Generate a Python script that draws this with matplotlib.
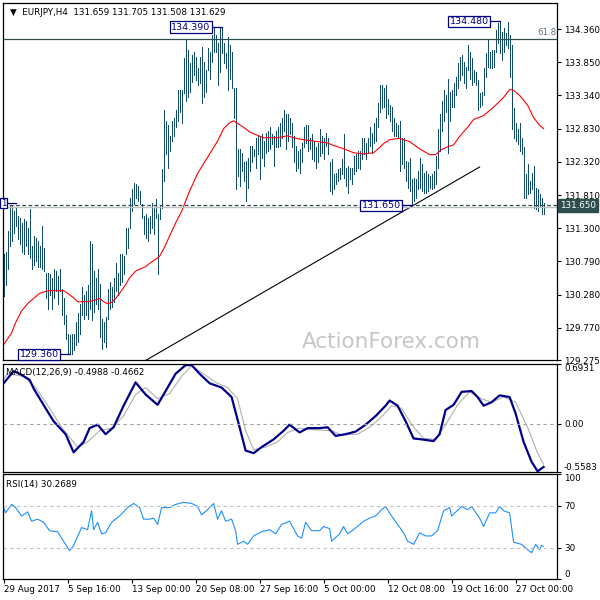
import matplotlib
matplotlib.use("Agg")
import matplotlib.pyplot as plt

plt.rcParams["font.family"] = ["DejaVu Sans"]
FS = 6.3

# ── data (EURJPY H4, bar index 0 = 29 Aug 2017) ─────────────────────────────
bar_high = [
    130.90, 130.94, 131.25, 131.64, 131.64, 131.56, 131.61, 131.48, 131.45, 131.38,
    131.44, 131.41, 131.30, 131.59, 131.02, 131.18, 131.15, 131.10, 131.02, 131.33,
    130.99, 130.61, 130.61, 130.59, 130.53, 130.68, 130.64, 130.56, 130.67, 130.36,
    130.22, 129.97, 129.68, 129.66, 129.68, 129.68, 129.86, 129.99, 130.13, 130.40,
    130.28, 130.33, 130.43, 131.10, 131.05, 130.64, 130.53, 130.67, 130.45, 129.91,
    129.86, 129.94, 130.36, 130.48, 130.40, 130.53, 130.76, 130.61, 130.90, 130.90,
    130.87, 131.30, 131.30, 131.76, 131.90, 132.00, 131.98, 131.95, 131.87, 131.67,
    131.48, 131.52, 131.45, 131.48, 131.69, 131.61, 131.75, 131.52, 131.64, 132.21,
    133.11, 132.95, 132.88, 132.72, 132.95, 132.99, 133.11, 133.42, 133.42, 133.42,
    133.91, 134.19, 134.04, 133.84, 133.96, 134.01, 133.93, 133.76, 133.93, 134.08,
    133.85, 133.73, 134.07, 134.01, 134.27, 134.39, 134.27, 134.14, 134.39, 134.39,
    134.14, 133.99, 134.24, 134.11, 134.01, 133.46, 133.45, 132.52, 132.52, 132.46,
    132.31, 132.34, 132.38, 132.57, 132.57, 132.52, 132.69, 132.72, 132.72, 132.75,
    132.64, 132.77, 132.80, 132.85, 132.75, 132.72, 132.80, 132.85, 132.92, 133.00,
    133.11, 133.06, 133.06, 133.00, 132.91, 132.72, 132.57, 132.49, 132.52, 132.61,
    132.85, 132.88, 132.88, 132.69, 132.75, 132.64, 132.54, 132.61, 132.83, 132.72,
    132.69, 132.77, 132.68, 132.31, 132.37, 132.14, 132.15, 132.21, 132.23, 132.37,
    132.75, 132.23, 132.26, 132.23, 132.23, 132.41, 132.44, 132.49, 132.49, 132.69,
    132.69, 132.61, 132.69, 132.85, 132.77, 132.91, 132.99, 133.23, 133.50, 133.50,
    133.46, 133.50, 133.29, 133.19, 133.16, 132.99, 132.92, 132.88, 132.95, 132.69,
    132.68, 132.34, 132.31, 132.38, 132.06, 132.07, 132.06, 132.18, 132.38, 132.29,
    132.15, 132.18, 132.14, 132.10, 132.14, 132.18, 132.41, 132.83, 133.06, 133.26,
    133.42, 133.34, 133.60, 133.39, 133.42, 133.53, 133.62, 133.84, 133.93, 133.96,
    133.85, 133.77, 134.11, 134.01, 133.91, 133.73, 133.70, 133.57, 133.37, 133.39,
    133.76, 133.99, 134.19, 134.01, 134.04, 134.04, 134.35, 134.45, 134.48, 134.31,
    134.38, 134.30, 134.47, 134.27, 134.11, 133.14, 132.92, 132.83, 132.92, 132.69,
    132.54, 132.14, 132.29, 132.03, 132.15, 132.26, 131.92, 131.90, 131.83, 131.76,
    131.69,
]
bar_low = [
    130.26, 130.43, 130.68, 131.02, 131.10, 131.22, 131.33, 131.13, 131.05, 130.94,
    130.90, 131.02, 130.91, 130.84, 130.68, 130.74, 130.79, 130.71, 130.71, 130.67,
    130.64, 130.22, 130.06, 130.28, 130.06, 130.22, 130.33, 130.13, 130.33, 129.97,
    129.83, 129.60, 129.37, 129.36, 129.37, 129.43, 129.51, 129.55, 129.68, 129.97,
    129.91, 129.97, 129.91, 130.06, 129.89, 130.02, 130.13, 130.06, 129.63, 129.45,
    129.55, 129.48, 129.91, 130.06, 130.09, 130.17, 130.33, 130.28, 130.43, 130.48,
    130.59, 130.90, 130.99, 131.30, 131.56, 131.67, 131.76, 131.72, 131.67, 131.45,
    131.21, 131.15, 131.10, 131.22, 131.30, 131.21, 131.45, 130.59, 131.44, 131.61,
    132.03, 132.44, 132.23, 132.49, 132.64, 132.72, 132.85, 132.95, 133.08, 132.92,
    133.37, 133.26, 133.31, 133.39, 133.54, 133.65, 133.57, 133.50, 133.53, 133.23,
    133.31, 133.39, 133.73, 133.60, 133.85, 134.01, 134.01, 133.50, 133.70, 133.99,
    133.84, 133.76, 133.42, 133.60, 133.45, 133.00, 131.90, 132.10, 131.95, 132.18,
    132.03, 131.72, 131.92, 132.18, 132.31, 132.41, 132.23, 132.44, 132.06, 132.38,
    132.26, 132.46, 132.49, 132.52, 132.60, 132.26, 132.54, 132.54, 132.57, 132.69,
    132.80, 132.52, 132.64, 132.75, 132.54, 132.31, 132.18, 132.23, 132.15, 132.31,
    132.54, 132.61, 132.49, 132.52, 132.37, 132.34, 132.23, 132.31, 132.41, 132.46,
    132.37, 132.57, 132.44, 131.87, 131.83, 131.90, 131.98, 132.03, 132.06, 132.14,
    132.07, 131.95, 131.84, 132.06, 131.98, 132.14, 132.18, 132.23, 132.21, 132.37,
    132.44, 132.37, 132.46, 132.57, 132.46, 132.61, 132.64, 132.85, 133.08, 133.14,
    133.16, 133.00, 133.06, 132.95, 132.80, 132.72, 132.72, 132.69, 132.18, 132.29,
    132.23, 132.03, 131.92, 131.87, 131.65, 131.72, 131.76, 131.90, 131.92, 131.87,
    131.84, 131.84, 131.87, 131.92, 131.90, 131.92, 131.98, 132.23, 132.49, 132.80,
    132.95, 133.08, 132.46, 132.95, 133.16, 133.16, 133.34, 133.46, 133.57, 133.65,
    133.53, 133.46, 133.73, 133.60, 133.50, 133.54, 133.50, 133.11, 133.16, 133.19,
    133.34, 133.62, 133.77, 133.76, 133.76, 133.77, 134.01, 134.14, 133.99, 133.88,
    134.01, 134.11, 134.07, 133.62, 132.83, 132.68, 132.64, 132.60, 132.49, 132.44,
    131.76, 131.76, 131.83, 131.84, 131.90, 131.61, 131.59, 131.56, 131.64, 131.52,
    131.52,
]

ma_idx = [0, 4, 6, 9, 12, 15, 18, 21, 24, 27, 30, 32, 35, 37, 40, 42, 45, 48, 50, 52,
          54, 56, 58, 61, 63, 66, 68, 71, 73, 76, 78, 80, 83, 86, 89, 93, 97, 100, 103, 107,
          110, 113, 115, 117, 120, 123, 125, 130, 137, 142, 146, 150, 157, 162, 165, 170,
          175, 180, 185, 188, 190, 193, 198, 203, 208, 213, 216, 219, 222, 225, 228, 232,
          235, 240, 245, 250, 253, 255, 258, 262, 265, 268, 270]
ma_val = [129.51, 129.69, 129.85, 130.03, 130.14, 130.22, 130.30, 130.33, 130.34, 130.34,
          130.34, 130.30, 130.23, 130.17, 130.17, 130.17, 130.19, 130.22, 130.17, 130.14,
          130.16, 130.22, 130.30, 130.43, 130.54, 130.64, 130.67, 130.71, 130.76, 130.82,
          130.87, 130.98, 131.18, 131.38, 131.56, 131.87, 132.14, 132.29, 132.44, 132.64,
          132.83, 132.92, 132.95, 132.91, 132.85, 132.78, 132.75, 132.69, 132.69, 132.72,
          132.68, 132.66, 132.63, 132.61, 132.57, 132.52, 132.46, 132.44, 132.46, 132.54,
          132.60, 132.66, 132.68, 132.63, 132.52, 132.43, 132.43, 132.51, 132.55, 132.58,
          132.71, 132.85, 132.97, 133.03, 133.16, 133.31, 133.43, 133.42, 133.34, 133.19,
          133.00, 132.88, 132.83]

macd_idx = [0, 5, 8, 13, 15, 21, 25, 31, 35, 40, 43, 47, 51, 55, 60, 66, 71, 77, 81, 86,
            91, 94, 98, 103, 109, 114, 118, 121, 125, 129, 135, 140, 143, 148, 152, 158,
            162, 166, 171, 176, 181, 186, 191, 193, 197, 201, 205, 209, 215, 218, 221, 225,
            229, 234, 237, 240, 244, 248, 253, 256, 260, 264, 267, 270]
macd_val = [0.47, 0.61, 0.58, 0.51, 0.41, 0.18, 0.03, -0.12, -0.33, -0.21,
            -0.05, -0.01, -0.12, -0.04, 0.21, 0.48, 0.34, 0.22, 0.38, 0.58,
            0.68, 0.68, 0.58, 0.47, 0.42, 0.31, -0.04, -0.31, -0.34, -0.27,
            -0.18, -0.08, -0.01, -0.10, -0.05, -0.05, -0.04, -0.14, -0.12, -0.09,
            -0.01, 0.09, 0.21, 0.27, 0.21, 0.03, -0.17, -0.18, -0.20, -0.12,
            0.16, 0.22, 0.37, 0.38, 0.31, 0.21, 0.25, 0.33, 0.31, 0.12,
            -0.21, -0.44, -0.55, -0.50]
sig_idx = [0, 2, 10, 16, 23, 29, 37, 42, 48, 54, 60, 66, 71, 77, 83, 89, 94, 100, 106, 112,
           117, 121, 125, 131, 137, 142, 148, 156, 164, 169, 177, 183, 189, 194, 199, 204,
           210, 216, 221, 227, 233, 239, 244, 250, 256, 262, 267, 270]
sig_val = [0.52, 0.58, 0.55, 0.42, 0.18, -0.04, -0.27, -0.21, -0.08, -0.05,
           0.09, 0.34, 0.42, 0.29, 0.35, 0.55, 0.67, 0.58, 0.48, 0.42,
           0.29, -0.08, -0.30, -0.27, -0.21, -0.10, -0.05, -0.07, -0.08, -0.13,
           -0.12, -0.04, 0.08, 0.21, 0.18, -0.01, -0.17, -0.18, -0.01, 0.22,
           0.37, 0.29, 0.25, 0.31, 0.25, -0.04, -0.34, -0.47]

rsi_idx = [0, 1, 4, 6, 9, 12, 14, 17, 20, 23, 27, 30, 33, 35, 39, 42, 44, 45, 47, 49,
           51, 54, 58, 62, 65, 68, 70, 73, 75, 77, 79, 83, 86, 90, 94, 97, 99, 102, 105, 107,
           109, 111, 114, 116, 117, 120, 122, 125, 129, 133, 136, 139, 143, 147, 149, 151,
           154, 158, 160, 163, 164, 168, 170, 172, 175, 180, 183, 186, 189, 191, 194, 197,
           200, 202, 205, 208, 211, 214, 217, 220, 223, 224, 229, 232, 234, 238, 240, 243,
           246, 248, 250, 253, 255, 259, 262, 264, 266, 268, 269, 270]
rsi_val = [68, 63, 71, 68, 60, 64, 55, 57, 54, 46, 45, 36, 27, 32, 49, 47, 65, 47, 54, 43,
           44, 54, 60, 68, 72, 68, 57, 57, 58, 52, 68, 68, 71, 73, 72, 69, 61, 66, 72, 57,
           65, 55, 57, 46, 33, 36, 33, 41, 45, 47, 43, 52, 55, 41, 39, 54, 46, 46, 50, 48,
           36, 43, 50, 43, 47, 55, 58, 60, 66, 69, 60, 52, 44, 36, 33, 44, 41, 41, 46, 65,
           68, 60, 69, 66, 69, 58, 50, 63, 63, 69, 65, 63, 35, 33, 28, 25, 33, 28, 32, 31]

date_idx = [0, 32, 64, 96, 128, 160, 192, 224, 256]
date_labels = ["29 Aug 2017", "5 Sep 16:00", "13 Sep 00:00", "20 Sep 08:00",
               "27 Sep 16:00", "5 Oct 00:00", "12 Oct 08:00", "19 Oct 16:00",
               "27 Oct 00:00"]
price_ticks = [134.360, 133.850, 133.340, 132.830, 132.320, 131.810, 131.300,
               130.790, 130.280, 129.770, 129.275]

# marked highs / lows: (bar index, price)
marks = [(109, 134.390), (248, 134.480), (33, 129.360), (204, 131.650)]
fib_level = 134.205
support = 131.650
bid = 131.629
trend_x = [70, 238]
trend_y = [129.25, 132.24]

BAR_C = "#134b6b"
NAVY = "#000080"

fig = plt.figure(figsize=(6, 6), dpi=100)
fig.patch.set_facecolor("white")
L, W = 3 / 600, 554 / 600
ax = fig.add_axes([L, 1 - 360 / 600, W, 357 / 600])
ax_m = fig.add_axes([L, 1 - 472 / 600, W, 108 / 600], sharex=ax)
ax_r = fig.add_axes([L, 1 - 579 / 600, W, 105 / 600], sharex=ax)

for a in (ax, ax_m, ax_r):
    a.yaxis.tick_right()
    a.tick_params(axis="y", direction="out", length=3, width=0.8,
                  labelsize=FS, pad=2, colors="black")
    a.tick_params(axis="x", bottom=False, labelbottom=False)
    for s in a.spines.values():
        s.set_linewidth(0.9)
        s.set_color("black")

ax.set_xlim(-0.3, 276.7)

# ── price panel ─────────────────────────────────────────────────────────────
idx = list(range(len(bar_high)))
ax.vlines(idx, bar_low, bar_high, colors=BAR_C, linewidth=0.72, antialiased=False)
ax.plot(ma_idx, ma_val, color="red", lw=0.8)
ax.plot(trend_x, trend_y, color="black", lw=0.8)
ax.axhline(fib_level, color="#2f4f4f", lw=0.9)
ax.text(276.3, fib_level + 0.04, "61.8", ha="right", va="bottom", fontsize=FS,
        color="#5f7386")
ax.axhline(bid, color="#c0c0c0", lw=1.0)
ax.axhline(support, color="#2f4f4f", lw=0.9, dashes=(3, 2))

ax.set_ylim(129.275, 134.76)
ax.set_yticks(price_ticks)
ax.set_yticklabels([f"{v:.3f}" for v in price_ticks])

for bi, pv in marks:
    x_box = bi - 5
    ax.plot([x_box, bi], [pv, pv], color=NAVY, lw=0.9)
    ax.text(x_box - 0.5, pv, f"{pv:.3f}", ha="right", va="center", fontsize=6.8,
            color=NAVY, bbox=dict(boxstyle="square,pad=0.12", fc="white",
                                  ec=NAVY, lw=0.9))
# small label stub at the left edge
ax.plot([1, 6], [131.69, 131.69], color=NAVY, lw=0.9)
fig.text(1 / 600, 1 - 203 / 600, "1", ha="left", va="center", fontsize=6.3,
         color=NAVY, bbox=dict(boxstyle="square,pad=0.1", fc="white", ec=NAVY, lw=0.9))

ax.annotate("131.650", xy=(1, support), xycoords=("axes fraction", "data"),
            xytext=(2, 0), textcoords="offset points", ha="left", va="center",
            fontsize=FS, color="white", annotation_clip=False,
            bbox=dict(boxstyle="square,pad=0.25", fc="#2f4f4f", ec="#2f4f4f"))

ax.text(0.012, 0.985, "\u25bc  EURJPY,H4  131.659 131.705 131.508 131.629",
        transform=ax.transAxes, ha="left", va="top", fontsize=FS, color="black")
ax.text(0.539, 0.034, "ActionForex.com", transform=ax.transAxes, ha="left",
        va="baseline", fontsize=15.5, color="#c6c6c6")

# ── MACD panel ──────────────────────────────────────────────────────────────
ax_m.plot(sig_idx, sig_val, color="#b0b0b0", lw=0.8)
ax_m.plot(macd_idx, macd_val, color="#00008b", lw=1.6)
ax_m.axhline(0, color="#a0a0a0", lw=0.8, dashes=(3, 3))
ax_m.set_ylim(-0.5583, 0.6931)
ax_m.set_yticks([-0.5583, 0.0, 0.6931])
ax_m.set_yticklabels(["-0.5583", "0.00", "0.6931"])
lbls = ax_m.get_yticklabels()
lbls[0].set_va("bottom")
lbls[2].set_va("top")
ax_m.text(0.006, 0.96, "MACD(12,26,9) -0.4988 -0.4662", transform=ax_m.transAxes,
          ha="left", va="top", fontsize=FS, color="black")

# ── RSI panel ───────────────────────────────────────────────────────────────
ax_r.plot(rsi_idx, rsi_val, color="#1e90ff", lw=0.8)
for lvl in (30, 70):
    ax_r.axhline(lvl, color="#c0c0c0", lw=0.8, dashes=(3, 3))
ax_r.set_ylim(0, 100)
ax_r.set_yticks([0, 30, 70, 100])
ax_r.set_yticklabels(["0", "30", "70", "100"])
lbls = ax_r.get_yticklabels()
lbls[0].set_va("bottom")
lbls[3].set_va("top")
ax_r.text(0.006, 0.94, "RSI(14) 30.2689", transform=ax_r.transAxes,
          ha="left", va="top", fontsize=FS, color="black")

ax_r.set_xticks(date_idx)
ax_r.tick_params(axis="x", bottom=True, labelbottom=True, direction="out",
                 length=3, width=0.8, labelsize=FS, pad=1.5)
ax_r.set_xticklabels(date_labels)
for lb in ax_r.get_xticklabels():
    lb.set_ha("left")

fig.savefig("out.png", dpi=100)
